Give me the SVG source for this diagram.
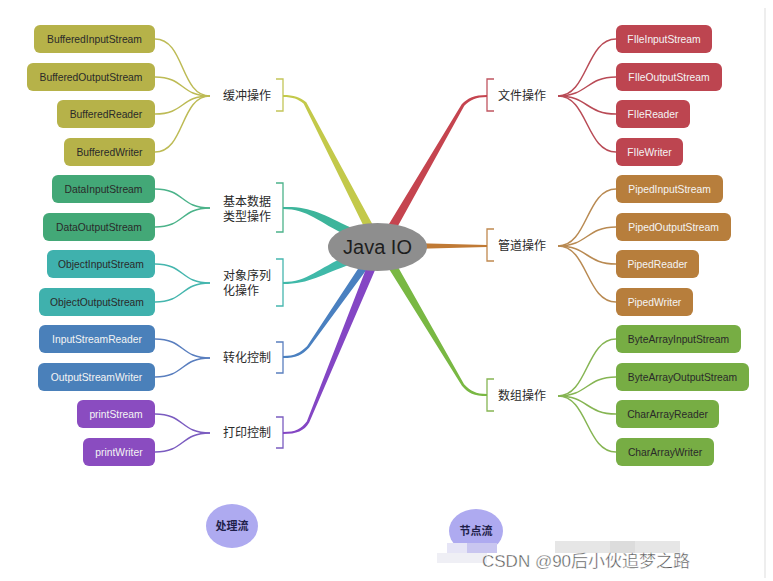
<svg xmlns="http://www.w3.org/2000/svg" width="773" height="581" viewBox="0 0 773 581">
<style>
.box text{font-family:"Liberation Sans",Arial,sans-serif;font-size:10.3px;text-anchor:middle}
.lbl{font-family:"Liberation Sans","Noto Sans CJK SC",sans-serif;font-size:12px;fill:#2a2a2a}
.c{fill:none;stroke-width:1.5}
.br{fill:none;stroke-width:1.3}
.dk{fill:#2a2a2a}
.lt{fill:#f4f4f4}
</style>
<rect width="773" height="581" fill="#ffffff"/>
<line x1="765" y1="8" x2="765" y2="578" stroke="#e3e3e3" stroke-width="1.2"/>

<g id="connectors">
  <g stroke="#bdbb55" class="c">
    <path class="c" d="M155,39 C185,39 180,96 210,96"/>
    <path class="c" d="M155,77 C185,77 180,96 210,96"/>
    <path class="c" d="M155,114 C185,114 180,96 210,96"/>
    <path class="c" d="M155,152 C185,152 180,96 210,96"/>
  </g>
  <g stroke="#4cb38a" class="c">
    <path class="c" d="M155,189 C185,189 180,208 210,208"/>
    <path class="c" d="M155,227 C185,227 180,208 210,208"/>
  </g>
  <g stroke="#45b6ae" class="c">
    <path class="c" d="M155,264 C185,264 180,283 210,283"/>
    <path class="c" d="M155,302 C185,302 180,283 210,283"/>
  </g>
  <g stroke="#5a7fbf" class="c">
    <path class="c" d="M155,339 C185,339 180,358 210,358"/>
    <path class="c" d="M155,377 C185,377 180,358 210,358"/>
  </g>
  <g stroke="#7b5cc0" class="c">
    <path class="c" d="M155,414 C185,414 180,433 210,433"/>
    <path class="c" d="M155,452 C185,452 180,433 210,433"/>
  </g>
  <g stroke="#b94b56" class="c">
    <path class="c" d="M558,96 C588,96 586,39 616,39"/>
    <path class="c" d="M558,96 C588,96 586,77 616,77"/>
    <path class="c" d="M558,96 C588,96 586,114 616,114"/>
    <path class="c" d="M558,96 C588,96 586,152 616,152"/>
  </g>
  <g stroke="#b98a52" class="c">
    <path class="c" d="M558,246 C588,246 586,189 616,189"/>
    <path class="c" d="M558,246 C588,246 586,227 616,227"/>
    <path class="c" d="M558,246 C588,246 586,264 616,264"/>
    <path class="c" d="M558,246 C588,246 586,302 616,302"/>
  </g>
  <g stroke="#86b553" class="c">
    <path class="c" d="M558,396 C588,396 586,339 616,339"/>
    <path class="c" d="M558,396 C588,396 586,377 616,377"/>
    <path class="c" d="M558,396 C588,396 586,414 616,414"/>
    <path class="c" d="M558,396 C588,396 586,452 616,452"/>
  </g>
  <path class="br" stroke="#c3c558" d="M276,79 H283 V111 H276"/>
  <path class="br" stroke="#4cb38a" d="M276,183 H283 V232 H276"/>
  <path class="br" stroke="#45b6ae" d="M276,259 H283 V306 H276"/>
  <path class="br" stroke="#5a7fbf" d="M276,342 H283 V373 H276"/>
  <path class="br" stroke="#7b5cc0" d="M276,417 H283 V448 H276"/>
  <path class="br" stroke="#c05560" d="M494,79 H487 V111 H494"/>
  <path class="br" stroke="#c0894f" d="M494,229 H487 V261 H494"/>
  <path class="br" stroke="#86b553" d="M494,379 H487 V411 H494"/>
  <path fill="#c3c94a" d="M283,95 C294,95 300,97 306.3,102.3 L375,228.9 L367,233.1 L303.7,103.7 C298,99 293,97 283,97 Z"/>
  <path fill="#c5444f" d="M487,95 C474,95 468,98 461.7,104.25 L386.1,228.75 L393.9,233.25 L464.3,105.75 C470,100 476,97 487,97 Z"/>
  <path fill="#3db59b" d="M283,207 C310,206 322,214 352,228 L348,236 C318,222 308,209 283,209 Z"/>
  <path fill="#40b9a9" d="M283,282 C308,282 318,268 347,256 L352,264 C322,274 310,284 283,284 Z"/>
  <path fill="#4a80c0" d="M283,356 C295,356 300,353 307,346.3 L364.7,258.7 L371.3,263.3 L309,347.7 C302,355 296,358 283,358 Z"/>
  <path fill="#8446c4" d="M283,432 C296,432 301,429 306.8,421.5 L369.8,259.3 L378.2,262.7 L309.2,422.5 C304,431 297,434 283,434 Z"/>
  <path fill="#79b843" d="M386.1,264.3 L461.9,385.7 C468,393 474,396 487,396 L487,394 C476,394 470,391 464.1,384.3 L393.9,259.7 Z"/>
  <path fill="#c07a35" d="M420,243.3 L487,245 L487,247 L420,248.7 Z"/>
</g>

<g id="javaio">
  <ellipse cx="377.5" cy="247" rx="49.5" ry="24" fill="#8e8e8e"/>
  <text x="377.5" y="254" text-anchor="middle" font-family="Liberation Sans,Arial,sans-serif" font-size="20" fill="#1e1e1e">Java IO</text>
</g>

<g id="labels">
  <g id="lbl-buffer"><text class="lbl" x="223" y="100">缓冲操作</text></g>
  <g id="lbl-basic"><text class="lbl" x="223" y="206">基本数据<tspan x="223" dy="15">类型操作</tspan></text></g>
  <g id="lbl-object"><text class="lbl" x="223" y="280">对象序列<tspan x="223" dy="15">化操作</tspan></text></g>
  <g id="lbl-convert"><text class="lbl" x="223" y="362">转化控制</text></g>
  <g id="lbl-print"><text class="lbl" x="223" y="437">打印控制</text></g>
  <g id="lbl-file"><text class="lbl" x="498" y="100">文件操作</text></g>
  <g id="lbl-pipe"><text class="lbl" x="498" y="250">管道操作</text></g>
  <g id="lbl-array"><text class="lbl" x="498" y="400">数组操作</text></g>
</g>

<g id="n-BufferedInputStream" class="box"><rect x="34" y="25" width="121" height="28" rx="6" fill="#b6b249"/><text class="dk" x="94.5" y="42.7">BufferedInputStream</text></g>
<g id="n-BufferedOutputStream" class="box"><rect x="27" y="63" width="128" height="28" rx="6" fill="#b6b249"/><text class="dk" x="91" y="80.7">BufferedOutputStream</text></g>
<g id="n-BufferedReader" class="box"><rect x="57" y="100" width="98" height="28" rx="6" fill="#b6b249"/><text class="dk" x="106" y="117.7">BufferedReader</text></g>
<g id="n-BufferedWriter" class="box"><rect x="64" y="138" width="91" height="28" rx="6" fill="#b6b249"/><text class="dk" x="109.5" y="155.7">BufferedWriter</text></g>

<g id="n-DataInputStream" class="box"><rect x="52" y="175" width="103" height="28" rx="6" fill="#43a877"/><text class="dk" x="103.5" y="192.7">DataInputStream</text></g>
<g id="n-DataOutputStream" class="box"><rect x="43" y="213" width="112" height="28" rx="6" fill="#43a877"/><text class="dk" x="99" y="230.7">DataOutputStream</text></g>

<g id="n-ObjectInputStream" class="box"><rect x="47" y="250" width="108" height="28" rx="6" fill="#3fb1ad"/><text class="dk" x="101" y="267.7">ObjectInputStream</text></g>
<g id="n-ObjectOutputStream" class="box"><rect x="39" y="288" width="116" height="28" rx="6" fill="#3fb1ad"/><text class="dk" x="97" y="305.7">ObjectOutputStream</text></g>

<g id="n-InputStreamReader" class="box"><rect x="39" y="325" width="116" height="28" rx="6" fill="#4a80ba"/><text class="lt" x="97" y="342.7">InputStreamReader</text></g>
<g id="n-OutputStreamWriter" class="box"><rect x="38" y="363" width="117" height="28" rx="6" fill="#4a80ba"/><text class="lt" x="96.5" y="380.7">OutputStreamWriter</text></g>

<g id="n-printStream" class="box"><rect x="77" y="400" width="78" height="28" rx="6" fill="#8a4cc0"/><text class="lt" x="116" y="417.7">printStream</text></g>
<g id="n-printWriter" class="box"><rect x="83" y="438" width="72" height="28" rx="6" fill="#8a4cc0"/><text class="lt" x="119" y="455.7">printWriter</text></g>

<g id="n-FIleInputStream" class="box"><rect x="616" y="25" width="96" height="28" rx="6" fill="#bd4550"/><text class="lt" x="664" y="42.7">FIleInputStream</text></g>
<g id="n-FIleOutputStream" class="box"><rect x="616" y="63" width="106" height="28" rx="6" fill="#bd4550"/><text class="lt" x="669" y="80.7">FIleOutputStream</text></g>
<g id="n-FIleReader" class="box"><rect x="616" y="100" width="74" height="28" rx="6" fill="#bd4550"/><text class="lt" x="653" y="117.7">FIleReader</text></g>
<g id="n-FIleWriter" class="box"><rect x="616" y="138" width="67" height="28" rx="6" fill="#bd4550"/><text class="lt" x="649.5" y="155.7">FIleWriter</text></g>

<g id="n-PipedInputStream" class="box"><rect x="616" y="175" width="107" height="28" rx="6" fill="#b77e3c"/><text class="lt" x="669.5" y="192.7">PipedInputStream</text></g>
<g id="n-PipedOutputStream" class="box"><rect x="616" y="213" width="115" height="28" rx="6" fill="#b77e3c"/><text class="lt" x="673.5" y="230.7">PipedOutputStream</text></g>
<g id="n-PipedReader" class="box"><rect x="616" y="250" width="83" height="28" rx="6" fill="#b77e3c"/><text class="lt" x="657.5" y="267.7">PipedReader</text></g>
<g id="n-PipedWriter" class="box"><rect x="616" y="288" width="77" height="28" rx="6" fill="#b77e3c"/><text class="lt" x="654.5" y="305.7">PipedWriter</text></g>

<g id="n-ByteArrayInputStream" class="box"><rect x="616" y="325" width="125" height="28" rx="6" fill="#77ad44"/><text class="dk" x="678.5" y="342.7">ByteArrayInputStream</text></g>
<g id="n-ByteArrayOutputStream" class="box"><rect x="616" y="363" width="133" height="28" rx="6" fill="#77ad44"/><text class="dk" x="682.5" y="380.7">ByteArrayOutputStream</text></g>
<g id="n-CharArrayReader" class="box"><rect x="616" y="400" width="103" height="28" rx="6" fill="#77ad44"/><text class="dk" x="667.5" y="417.7">CharArrayReader</text></g>
<g id="n-CharArrayWriter" class="box"><rect x="616" y="438" width="98" height="28" rx="6" fill="#77ad44"/><text class="dk" x="665" y="455.7">CharArrayWriter</text></g>

<g id="n-process">
  <ellipse cx="232" cy="526" rx="26" ry="22" fill="#aeaaf0"/>
  <text x="232" y="530" text-anchor="middle" font-family="Noto Sans CJK SC,Noto Sans,sans-serif" font-size="11" font-weight="bold" fill="#1f1f4a">处理流</text>
</g>
<g id="n-node">
  <ellipse cx="476" cy="531" rx="27" ry="22" fill="#aeaaf0"/>
  <text x="476" y="535" text-anchor="middle" font-family="Noto Sans CJK SC,Noto Sans,sans-serif" font-size="11" font-weight="bold" fill="#1f1f4a">节点流</text>
</g>

<g id="watermark">
  <rect x="447" y="543" width="20" height="10" fill="#e6e5f6"/>
  <rect x="467" y="543" width="30" height="10" fill="#c9c6f0"/>
  <rect x="437" y="553" width="50" height="10" fill="#efeff5"/>
  <rect x="555" y="541" width="125" height="12" fill="#e6e6e6"/>
  <rect x="610" y="541" width="25" height="12" fill="#dcdcdc"/>
  <text x="482" y="567" font-family="Liberation Sans,Noto Sans CJK SC,sans-serif" font-size="17" fill="#555" stroke="#ffffff" stroke-width="0.4">CSDN @90后小伙追梦之路</text>
</g>
</svg>
